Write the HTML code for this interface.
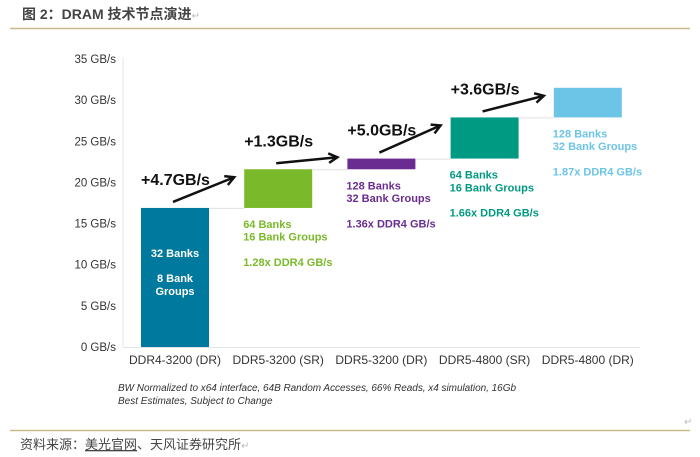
<!DOCTYPE html>
<html><head><meta charset="utf-8"><style>
body{margin:0;background:#fff;width:700px;height:457px;overflow:hidden;font-family:"Liberation Sans","Noto Sans CJK SC",sans-serif}
</style></head><body>
<svg width="700" height="457" id="c" style="position:absolute;left:0;top:0">
<text x="22" y="19" font-size="14" font-weight="bold" fill="#444" font-family="Liberation Sans,Noto Sans CJK SC,sans-serif">图 2：DRAM 技术节点演进<tspan fill="#bbb" font-weight="normal" font-size="10">↵</tspan></text>
<line x1="10" y1="28.5" x2="690" y2="28.5" stroke="#c9b98c" stroke-width="1.5"/>
<line x1="10" y1="430.5" x2="690" y2="430.5" stroke="#c9b98c" stroke-width="1.5"/>
<text x="684" y="425" font-size="10" fill="#bbb">↵</text>
<text x="20" y="449" font-size="13" fill="#444" font-family="Liberation Sans,Noto Sans CJK SC,sans-serif">资料来源：<tspan text-decoration="underline">美光官网</tspan>、天风证券研究所<tspan fill="#bbb" font-size="10">↵</tspan></text>
<text x="118" y="391" font-size="10" font-style="italic" fill="#333" textLength="398">BW Normalized to x64 interface, 64B Random Accesses, 66% Reads, x4 simulation, 16Gb</text>
<text x="118" y="404" font-size="10" font-style="italic" fill="#333">Best Estimates, Subject to Change</text>
<g id="plot"></g>
</svg>
<script>
const categories=["DDR4-3200 (DR)","DDR5-3200 (SR)","DDR5-3200 (DR)","DDR5-4800 (SR)","DDR5-4800 (DR)"];
const baseValue=16.9;
const deltas=[4.7,1.3,5.0,3.6];
const deltaLabels=["+4.7GB/s","+1.3GB/s","+5.0GB/s","+3.6GB/s"];
const yTicks=[0,5,10,15,20,25,30,35];
const notes=[["32 Banks","","8 Bank","Groups"],["64 Banks","16 Bank Groups","","1.28x DDR4 GB/s"],["128 Banks","32 Bank Groups","","1.36x DDR4 GB/s"],["64 Banks","16 Bank Groups","","1.66x DDR4 GB/s"],["128 Banks","32 Bank Groups","","1.87x DDR4 GB/s"]];
const colors=["#00799f","#7ab929","#6a2c91","#009a82","#6cc4e6"];
const NS="http://www.w3.org/2000/svg";
const g=document.getElementById('plot');
const y=v=>347-v*288/35;
const xc=i=>175+i*103.2;
const bw=68;
function el(t,a,txt){const e=document.createElementNS(NS,t);for(const k in a)e.setAttribute(k,a[k]);if(txt!=null)e.textContent=txt;g.appendChild(e);return e;}
let ax=el('line',{x1:123,y1:y(35)-2,x2:123,y2:347,stroke:'#e4e4e4'});


let bx=el('line',{x1:123,y1:347.5,x2:640,y2:347.5,stroke:'#e4e4e4'});


yTicks.forEach(t=>{
 const e=el('text',{x:116,y:y(t)+4,'text-anchor':'end','font-size':11.5,fill:'#333'},t+' GB/s');
 
 
});
const lows=[0],highs=[baseValue];
deltas.forEach((d,i)=>{lows.push(highs[i]);highs.push(highs[i]+d);});
categories.forEach((c,i)=>{
 const r=el('rect',{x:xc(i)-bw/2,y:y(highs[i]),width:bw,height:y(lows[i])-y(highs[i]),fill:colors[i]});
 
 
 if(i<categories.length-1){
  const cl=el('line',{x1:xc(i)+bw/2,y1:y(highs[i])+0.5,x2:xc(i+1)-bw/2,y2:y(highs[i])+0.5,stroke:'#e0e0e0'});
  
  
 }
 const xl=el('text',{x:xc(i),y:364,'text-anchor':'middle','font-size':12,fill:'#333'},c);
 
 
 if(i===0){
  const ys=[y(highs[0])+49,0,y(highs[0])+74,y(highs[0])+87];
  notes[0].forEach((n,k)=>{if(!n)return;
   const t=el('text',{x:xc(0),y:ys[k],'text-anchor':'middle','font-size':11,'font-weight':'bold',fill:'#fff'},n);
   
   });
 } else {
  const top=y(lows[i])+20;
  notes[i].forEach((n,k)=>{if(!n)return;
   const t=el('text',{x:xc(i)-bw/2-1,y:top+k*12.7,'font-size':11,'font-weight':'bold',fill:colors[i]},n);
   
   });
 }
});
deltas.forEach((d,i)=>{
 const x1=xc(i)-2,y1=y(highs[i])-6;
 const x2=xc(i+1)-bw/2-10,y2=Math.min(y(highs[i])-12,y(highs[i+1])+8);
 const a=el('line',{x1,y1,x2,y2,stroke:'#111','stroke-width':2.5});
 
 
 const ang=Math.atan2(y2-y1,x2-x1),L=10;
 const h=el('polyline',{points:`${x2-L*Math.cos(ang-0.5)},${y2-L*Math.sin(ang-0.5)} ${x2},${y2} ${x2-L*Math.cos(ang+0.5)},${y2-L*Math.sin(ang+0.5)}`,fill:'none',stroke:'#111','stroke-width':2.5});
 
 
 const t=el('text',{x:xc(i)-34,y:y(highs[i])-23,'font-size':16,'font-weight':'bold',fill:'#111'},deltaLabels[i]);
 
 
});
</script>
</body></html>
